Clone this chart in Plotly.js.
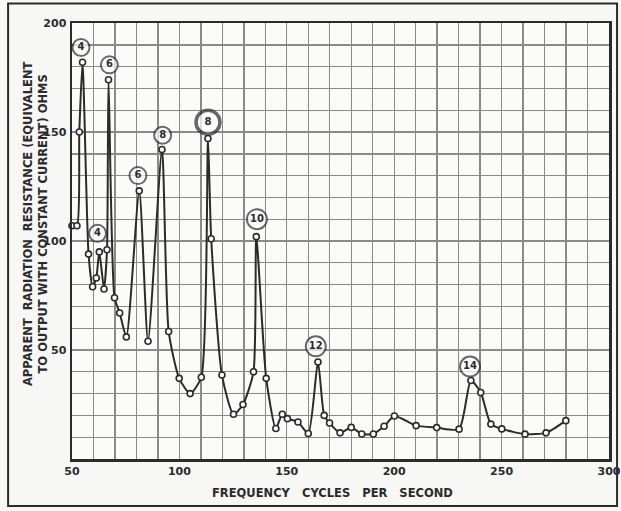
<!DOCTYPE html>
<html>
<head>
<meta charset="utf-8">
<script src="https://cdn.plot.ly/plotly-3.0.1.min.js"></script>
<style>
  html, body { margin: 0; padding: 0; background: #f7f7f5; }
  #chart { width: 621px; height: 511px; }
</style>
</head>
<body>
<div id="chart"></div>
<script>
// Frequency (cycles per second) of each measured point
const frequency = [50, 52.3, 53.4, 54.9, 57.7, 59.6, 61.3, 62.7, 64.9, 66.3, 67.0,
  69.8, 72.2, 75.3, 81.3, 85.4, 91.9, 95.0, 99.9, 105.0, 110.2, 113.3, 114.8,
  119.8, 125.2, 129.6, 134.5, 135.8, 140.4, 144.9, 147.9, 150.3, 155.2, 160.0,
  164.5, 167.4, 169.9, 174.8, 180.0, 184.9, 190.3, 195.3, 200.1, 210.2, 219.8,
  230.2, 235.7, 240.3, 245.0, 250.1, 260.9, 270.7, 279.9];

// Apparent radiation resistance (ohms)
const resistance = [107, 107, 150, 182, 94, 79, 83, 95, 78, 96, 174,
  74, 67, 56, 123, 54, 142, 58.5, 37, 30, 37.5, 147, 101,
  38.5, 20.5, 25, 40, 102, 37, 14, 20.5, 18.5, 17, 11.7,
  44.5, 20, 16.5, 12, 14.5, 11.5, 11.5, 15, 19.7, 15.3, 14.4,
  13.7, 36, 30.5, 16, 13.8, 11.4, 12, 17.6];

// Circled harmonic labels at the peaks
const peakLabelX = [54.2, 61.9, 67.4, 80.7, 92.2, 113.3, 136.1, 163.5, 235.3];
const peakLabelY = [188.8, 103.5, 180.8, 130, 148.5, 154.5, 110, 51.7, 42.4];
const peakLabelText = ["4", "4", "6", "6", "8", "8", "10", "12", "14"];

// Axis tick labels
const xTickLabels = [50, 100, 150, 200, 250, 300];
const yTickLabels = [50, 100, 150, 200];

const ink = "#2b2b2b";
const gridInk = "#8a8a8a";
const fontFam = "DejaVu Sans, Verdana, sans-serif";

const xGrid = [];
for (let v = 50; v <= 300; v += 10) xGrid.push(v);
const yGrid = [];
for (let v = 0; v <= 200; v += 10) yGrid.push(v);

const labelSizes = peakLabelText.map((t, i) => i === 5 ? 24 : (t.length > 1 ? 20 : 17));
const labelLineW = peakLabelText.map((t, i) => i === 5 ? 3.5 : 2);

const curve = {
  x: frequency, y: resistance, type: "scatter", mode: "lines+markers",
  line: { color: ink, width: 2, shape: "spline", smoothing: 0.6 },
  marker: { symbol: "circle", size: 6, color: "#ffffff", line: { color: ink, width: 1.6 } },
  cliponaxis: false, hoverinfo: "x+y", showlegend: false
};

const labels = {
  x: peakLabelX, y: peakLabelY, type: "scatter", mode: "markers+text",
  text: peakLabelText, textposition: "middle center",
  textfont: { family: fontFam, size: 10, color: ink, weight: "bold" },
  marker: { symbol: "circle", size: labelSizes, color: "#ffffff", line: { color: ink, width: labelLineW } },
  cliponaxis: false, hoverinfo: "skip", showlegend: false
};

const layout = {
  width: 621, height: 511,
  margin: { l: 72, r: 12, t: 23, b: 52 },
  paper_bgcolor: "#f7f7f5", plot_bgcolor: "#fbfbf9",
  font: { family: fontFam, color: ink },
  xaxis: {
    range: [50, 300], tickvals: xGrid,
    ticktext: xGrid.map(v => xTickLabels.includes(v) ? String(v) : ""),
    showgrid: true, gridcolor: gridInk, gridwidth: 1.4,
    zeroline: false, showline: true, linecolor: ink, linewidth: 2.5, mirror: true,
    ticks: "", tickfont: { family: fontFam, size: 11, color: ink, weight: "bold" },
    fixedrange: true
  },
  yaxis: {
    range: [0, 200], tickvals: yGrid,
    ticktext: yGrid.map(v => yTickLabels.includes(v) ? String(v) : ""),
    showgrid: true, gridcolor: gridInk, gridwidth: 1.4,
    zeroline: false, showline: true, linecolor: ink, linewidth: 2.5, mirror: true,
    ticks: "", ticklabelstandoff: 1,
    tickfont: { family: fontFam, size: 11, color: ink, weight: "bold" },
    fixedrange: true
  },
  annotations: [
    {
      xref: "paper", yref: "paper", x: -0.068, y: 0.54, showarrow: false,
      xanchor: "center", yanchor: "middle",
      textangle: -90, align: "center",
      text: "APPARENT\u00A0 RADIATION\u00A0 RESISTANCE (EQUIVALENT<br>TO OUTPUT WITH CONSTANT CURRENT) OHMS",
      font: { family: fontFam, size: 11.5, color: ink, weight: "bold" }
    },
    {
      xref: "paper", yref: "paper", x: 0.486, y: -0.078, showarrow: false,
      xanchor: "center", yanchor: "middle",
      text: "FREQUENCY\u00A0\u00A0 CYCLES\u00A0\u00A0 PER\u00A0\u00A0 SECOND",
      font: { family: fontFam, size: 11.5, color: ink, weight: "bold" }
    }
  ],
  shapes: [
    {
      type: "rect", xref: "paper", yref: "paper",
      x0: -0.119, x1: 1.015, y0: -0.108, y1: 1.045,
      line: { color: ink, width: 2 }, fillcolor: "rgba(0,0,0,0)", layer: "below"
    }
  ]
};

Plotly.newPlot("chart", [curve, labels], layout, { displayModeBar: false, staticPlot: true });
</script>
</body>
</html>
